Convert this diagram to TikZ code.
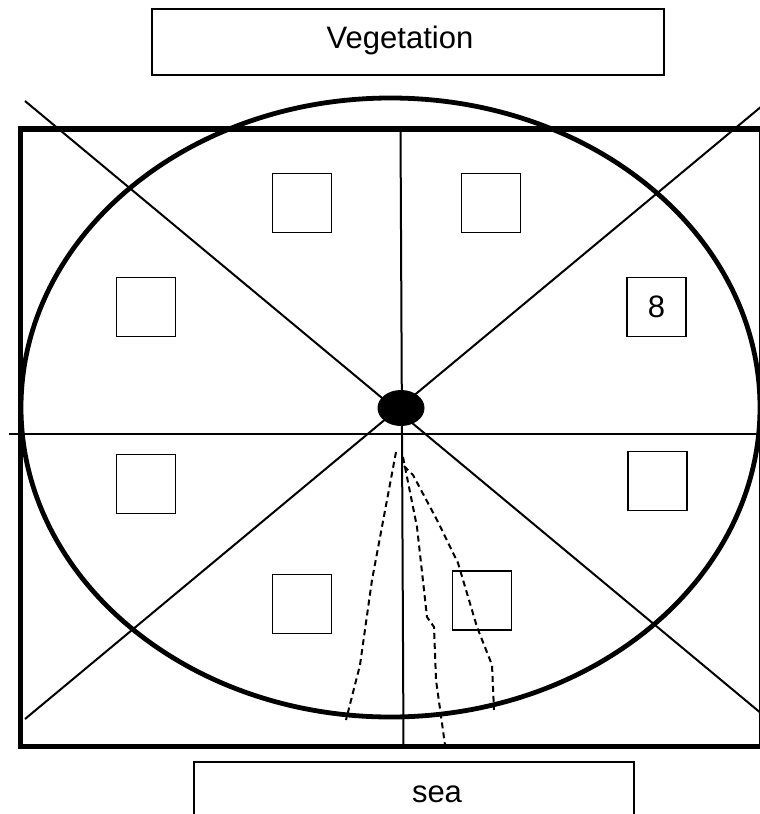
\documentclass[tikz,border=0pt]{standalone}
\usepackage{fontspec}
\setmainfont{Liberation Sans}
\usetikzlibrary{shapes.geometric}
\tikzset{
  labelbox/.style={draw=black, line width=1.1pt, inner sep=0pt, font=\fontsize{31}{37}\selectfont},
  sq/.style={draw=black, line width=1.1pt, minimum width=59pt, minimum height=59pt, inner sep=0pt, font=\fontsize{31}{37}\selectfont},
  thinline/.style={line width=2pt},
  dashline/.style={line width=2pt, dash pattern=on 6pt off 4pt}
}
\begin{document}
\begin{tikzpicture}[x=1pt,y=-1pt]
\useasboundingbox (0,0) rectangle (760,814);
\clip (0,0) rectangle (760,814);
% outer frame
\draw[line width=5.5pt] (20.5,129) rectangle (762,746.5);
% big ellipse
\draw[line width=4.8pt] (390.5,407.5) ellipse [x radius=369.5, y radius=309.5];
% cross lines
\coordinate (d1a) at (25,101);
\coordinate (d1b) at (780,729);
\coordinate (d2a) at (780,91);
\coordinate (d2b) at (25,719);
\coordinate (ha) at (9,434);
\coordinate (hb) at (760,434);
\coordinate (va) at (400.5,127);
\coordinate (vb) at (403.5,746);
\draw[thinline] (d1a) -- (d1b);
\draw[thinline] (d2a) -- (d2b);
\draw[thinline] (ha) -- (hb);
\draw[thinline] (va) -- (vb);
% centre
\node[ellipse, fill=black, minimum width=47pt, minimum height=36pt, inner sep=0pt] (hub) at (401,408) {};
% squares
\node[sq] (s1) at (302,203) {};
\node[sq] (s2) at (491,203) {};
\node[sq] (s3) at (146,307) {};
\node[sq] (s4) at (656.5,307) {8};
\node[sq] (s5) at (146,484) {};
\node[sq] (s6) at (657.5,481) {};
\node[sq] (s7) at (302,604) {};
\node[sq] (s8) at (482,600.5) {};
% dashed paths
\draw[dashline] (396,452) -- (372,580) -- (360,665) -- (346,720);
\draw[dashline] (403,457) -- (417,527) -- (427,617) -- (434,627) -- (436,680) -- (445,745);
\draw[dashline] (404,466) -- (413,475) -- (437,520) -- (458,563) -- (477,627) -- (492,665) -- (494,710);
% label boxes
\node[labelbox, minimum width=512pt, minimum height=66pt] (veg) at (408,42) {};
\node[anchor=base, font=\fontsize{31}{37}\selectfont] (vegt) at (400,48) {Vegetation};
\node[labelbox, minimum width=440pt, minimum height=80pt] (sea) at (414,802) {};
\node[anchor=base, font=\fontsize{31}{37}\selectfont] (seat) at (437,802) {sea};
\end{tikzpicture}
\end{document}
